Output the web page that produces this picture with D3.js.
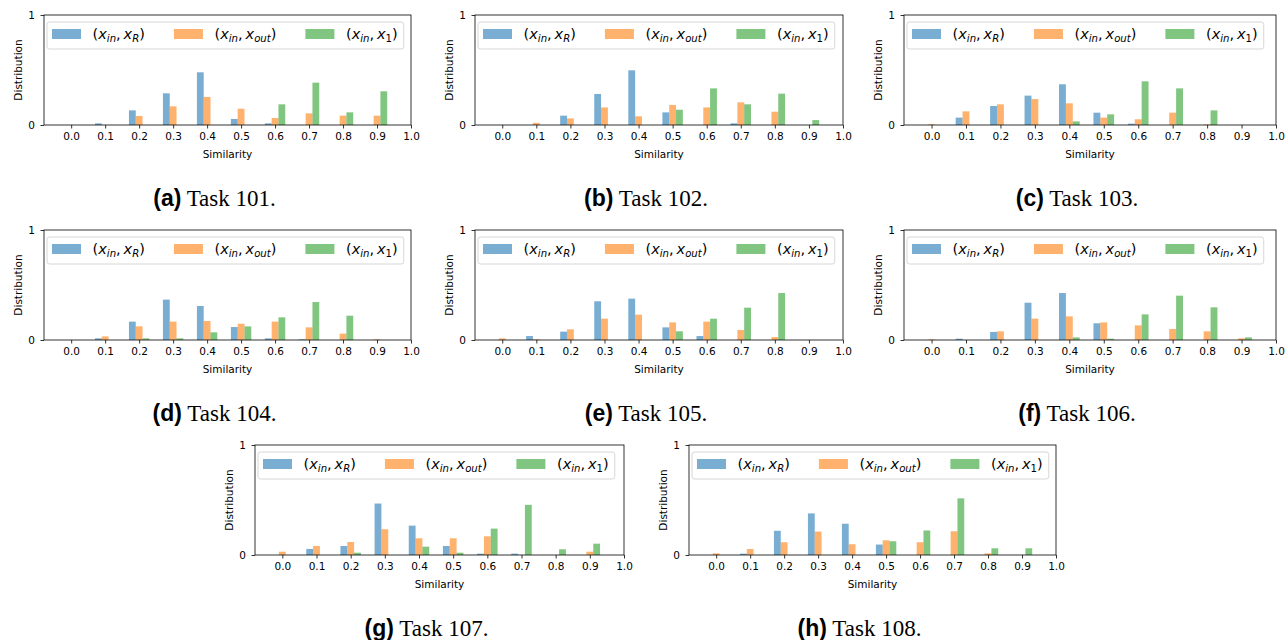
<!DOCTYPE html>
<html>
<head>
<meta charset="utf-8">
<script src="https://cdn.jsdelivr.net/npm/d3@7"></script>
<style>
  body { margin: 0; background: #fff; }
  svg text { font-family: "DejaVu Sans", sans-serif; fill: #000; }
</style>
</head>
<body>
<svg id="chart" width="1285" height="640"></svg>
<script>
// bins (left edge of each similarity bucket) and tick labels
const similarityBins = [0.0, 0.1, 0.2, 0.3, 0.4, 0.5, 0.6, 0.7, 0.8, 0.9];
const xTickValues = [0.0, 0.1, 0.2, 0.3, 0.4, 0.5, 0.6, 0.7, 0.8, 0.9, 1.0];
const yTickValues = [0, 1];
const seriesNames = ["xR", "xOut", "x1"];

// distributions, one array per series per task
const task101XR = [0, 0.015, 0.133, 0.288, 0.479, 0.055, 0.015, 0, 0, 0];
const task101XOut = [0, 0, 0.082, 0.17, 0.255, 0.148, 0.064, 0.106, 0.085, 0.085];
const task101X1 = [0, 0, 0, 0, 0, 0, 0.188, 0.385, 0.115, 0.306];

const task102XR = [0, 0, 0.085, 0.282, 0.497, 0.115, 0, 0.015, 0, 0];
const task102XOut = [0, 0.02, 0.06, 0.16, 0.079, 0.182, 0.16, 0.206, 0.121, 0];
const task102X1 = [0, 0, 0, 0, 0, 0.139, 0.333, 0.188, 0.285, 0.045];

const task103XR = [0, 0.067, 0.173, 0.267, 0.37, 0.112, 0.012, 0, 0, 0];
const task103XOut = [0.006, 0.124, 0.188, 0.236, 0.197, 0.067, 0.052, 0.112, 0.005, 0];
const task103X1 = [0, 0, 0, 0, 0.033, 0.097, 0.397, 0.333, 0.133, 0];

const task104XR = [0, 0.015, 0.167, 0.367, 0.309, 0.118, 0.015, 0.006, 0, 0];
const task104XOut = [0, 0.033, 0.124, 0.167, 0.173, 0.148, 0.167, 0.115, 0.058, 0.006];
const task104X1 = [0, 0, 0.015, 0.015, 0.07, 0.124, 0.206, 0.345, 0.221, 0];

const task105XR = [0, 0.036, 0.076, 0.352, 0.376, 0.115, 0.036, 0, 0, 0];
const task105XOut = [0.015, 0.006, 0.097, 0.194, 0.23, 0.16, 0.167, 0.091, 0.027, 0];
const task105X1 = [0, 0, 0, 0, 0, 0.079, 0.194, 0.294, 0.427, 0];

const task106XR = [0, 0.012, 0.073, 0.339, 0.427, 0.152, 0, 0, 0, 0];
const task106XOut = [0.005, 0, 0.079, 0.194, 0.215, 0.16, 0.133, 0.1, 0.079, 0.015];
const task106X1 = [0, 0, 0, 0, 0.024, 0.012, 0.233, 0.403, 0.297, 0.024];

const task107XR = [0, 0.055, 0.082, 0.468, 0.267, 0.082, 0.012, 0.012, 0, 0];
const task107XOut = [0.03, 0.082, 0.118, 0.234, 0.152, 0.152, 0.17, 0, 0, 0.03];
const task107X1 = [0, 0, 0.021, 0, 0.076, 0.021, 0.24, 0.456, 0.052, 0.103];

const task108XR = [0, 0.012, 0.22, 0.378, 0.284, 0.095, 0, 0, 0, 0];
const task108XOut = [0.015, 0.055, 0.116, 0.213, 0.098, 0.134, 0.116, 0.216, 0.015, 0];
const task108X1 = [0, 0, 0, 0, 0, 0.125, 0.223, 0.515, 0.061, 0.061];

const taskSeries = {
  101: [task101XR, task101XOut, task101X1],
  102: [task102XR, task102XOut, task102X1],
  103: [task103XR, task103XOut, task103X1],
  104: [task104XR, task104XOut, task104X1],
  105: [task105XR, task105XOut, task105X1],
  106: [task106XR, task106XOut, task106X1],
  107: [task107XR, task107XOut, task107X1],
  108: [task108XR, task108XOut, task108X1],
};

// layout of the subfigures (axes box in page pixels)
const PANEL_LAYOUT = [
  { task: 101, letter: "a", left: 44, right: 411, top: 15 },
  { task: 102, letter: "b", left: 475, right: 843, top: 15 },
  { task: 103, letter: "c", left: 904, right: 1276, top: 15 },
  { task: 104, letter: "d", left: 44, right: 411, top: 230 },
  { task: 105, letter: "e", left: 475, right: 843, top: 230 },
  { task: 106, letter: "f", left: 904, right: 1276, top: 230 },
  { task: 107, letter: "g", left: 255, right: 624, top: 445 },
  { task: 108, letter: "h", left: 689, right: 1056, top: 445 },
];
const AXES_HEIGHT = 110;
const BAR_WIDTH = 0.02;
const SERIES_OFFSETS = [-0.02, 0, 0.02];
const SERIES_COLORS = ["#1f77b4", "#ff7f0e", "#2ca02c"];
const BAR_ALPHA = 0.6;
const LEGEND_FONT = 14.5;
const TICK_FONT = 10.5;

const svg = d3.select("#chart");

PANEL_LAYOUT.forEach((panel) => drawPanel(panel));

function drawPanel(panel) {
  const bottom = panel.top + AXES_HEIGHT;
  const x = d3.scaleLinear().domain([-0.08, 1.0]).range([panel.left, panel.right]);
  const y = d3.scaleLinear().domain([0, 1]).range([bottom, panel.top]);
  const g = svg.append("g").attr("class", `panel panel-${panel.letter}`);
  const series = taskSeries[panel.task];

  series.forEach((values, seriesIndex) => {
    g.append("g")
      .attr("class", `bars bars-${seriesNames[seriesIndex]}`)
      .selectAll("rect")
      .data(values.map((value, i) => ({ bin: similarityBins[i], value })))
      .join("rect")
      .attr("x", (d) => x(d.bin + SERIES_OFFSETS[seriesIndex] - BAR_WIDTH / 2))
      .attr("width", (d) => x(d.bin + BAR_WIDTH) - x(d.bin))
      .attr("y", (d) => y(d.value))
      .attr("height", (d) => y(0) - y(d.value))
      .attr("fill", SERIES_COLORS[seriesIndex])
      .attr("fill-opacity", BAR_ALPHA);
  });

  const xAxis = g
    .append("g")
    .attr("transform", `translate(0,${bottom})`)
    .call(d3.axisBottom(x).tickValues(xTickValues).tickFormat(d3.format(".1f")).tickSize(3.5).tickPadding(4.5));
  const yAxis = g
    .append("g")
    .attr("transform", `translate(${panel.left},0)`)
    .call(d3.axisLeft(y).tickValues(yTickValues).tickFormat(d3.format("d")).tickSize(3.5).tickPadding(5.5));
  [xAxis, yAxis].forEach((axis) => {
    axis.select(".domain").remove();
    axis.selectAll(".tick line").attr("stroke", "#000").attr("stroke-width", 0.8);
    axis.selectAll(".tick text").attr("font-size", TICK_FONT).attr("font-family", "DejaVu Sans").attr("fill", "#000");
  });

  g.append("rect")
    .attr("x", panel.left)
    .attr("y", panel.top)
    .attr("width", panel.right - panel.left)
    .attr("height", AXES_HEIGHT)
    .attr("fill", "none")
    .attr("stroke", "#000")
    .attr("stroke-width", 0.8);

  g.append("text")
    .attr("x", (panel.left + panel.right) / 2)
    .attr("y", bottom + 33)
    .attr("text-anchor", "middle")
    .attr("font-size", TICK_FONT)
    .text("Similarity");

  g.append("text")
    .attr("transform", `translate(${panel.left - 26},${panel.top + AXES_HEIGHT / 2}) rotate(-90)`)
    .attr("text-anchor", "middle")
    .attr("dominant-baseline", "central")
    .attr("font-size", TICK_FONT)
    .text("Distribution");

  drawLegend(g, panel);

  const caption = g
    .append("text")
    .attr("x", (panel.left + panel.right) / 2 - 13)
    .attr("y", panel.top + 191)
    .attr("text-anchor", "middle")
    .attr("font-size", 23);
  caption
    .append("tspan")
    .attr("font-family", "Liberation Sans, Arial, sans-serif")
    .attr("font-weight", "bold")
    .text(`(${panel.letter})`);
  caption
    .append("tspan")
    .attr("font-family", "Liberation Serif, Times New Roman, serif")
    .text(` Task ${panel.task}.`);
}

function appendMathLabel(textSel, sub, subItalic) {
  textSel.append("tspan").text("(");
  textSel.append("tspan").attr("font-style", "italic").text("x");
  textSel.append("tspan").attr("font-style", "italic").attr("font-size", LEGEND_FONT * 0.7).attr("dy", 3).text("in");
  textSel.append("tspan").attr("dy", -3).text(",\u2009");
  textSel.append("tspan").attr("font-style", "italic").text("x");
  textSel
    .append("tspan")
    .attr("font-style", subItalic ? "italic" : "normal")
    .attr("font-size", LEGEND_FONT * 0.7)
    .attr("dy", 3)
    .text(sub);
  textSel.append("tspan").attr("dy", -3).text(")");
}

function drawLegend(g, panel) {
  const legendSubs = [
    { sub: "R", italic: true },
    { sub: "out", italic: true },
    { sub: "1", italic: false },
  ];
  const legend = g.append("g").attr("class", "legend");
  const frame = legend.append("rect");
  const rowY = panel.top + 19;
  let cursor = panel.left + 8;
  let lastEnd = cursor;

  legendSubs.forEach((item, i) => {
    legend
      .append("rect")
      .attr("x", cursor)
      .attr("y", rowY - 5)
      .attr("width", LEGEND_FONT * 2)
      .attr("height", 10)
      .attr("fill", SERIES_COLORS[i])
      .attr("fill-opacity", BAR_ALPHA);
    const textX = cursor + LEGEND_FONT * 2 + LEGEND_FONT * 0.8;
    const label = legend
      .append("text")
      .attr("x", textX)
      .attr("y", rowY + 5)
      .attr("font-size", LEGEND_FONT);
    appendMathLabel(label, item.sub, item.italic);
    const width = label.node().getComputedTextLength();
    lastEnd = textX + width;
    cursor = lastEnd + LEGEND_FONT * 2;
  });

  frame
    .attr("x", panel.left + 3)
    .attr("y", panel.top + 7)
    .attr("width", lastEnd + 6 - (panel.left + 3))
    .attr("height", 27)
    .attr("rx", 2.5)
    .attr("fill", "#fff")
    .attr("fill-opacity", 0.8)
    .attr("stroke", "#cccccc")
    .attr("stroke-width", 0.8);
}
</script>
</body>
</html>
